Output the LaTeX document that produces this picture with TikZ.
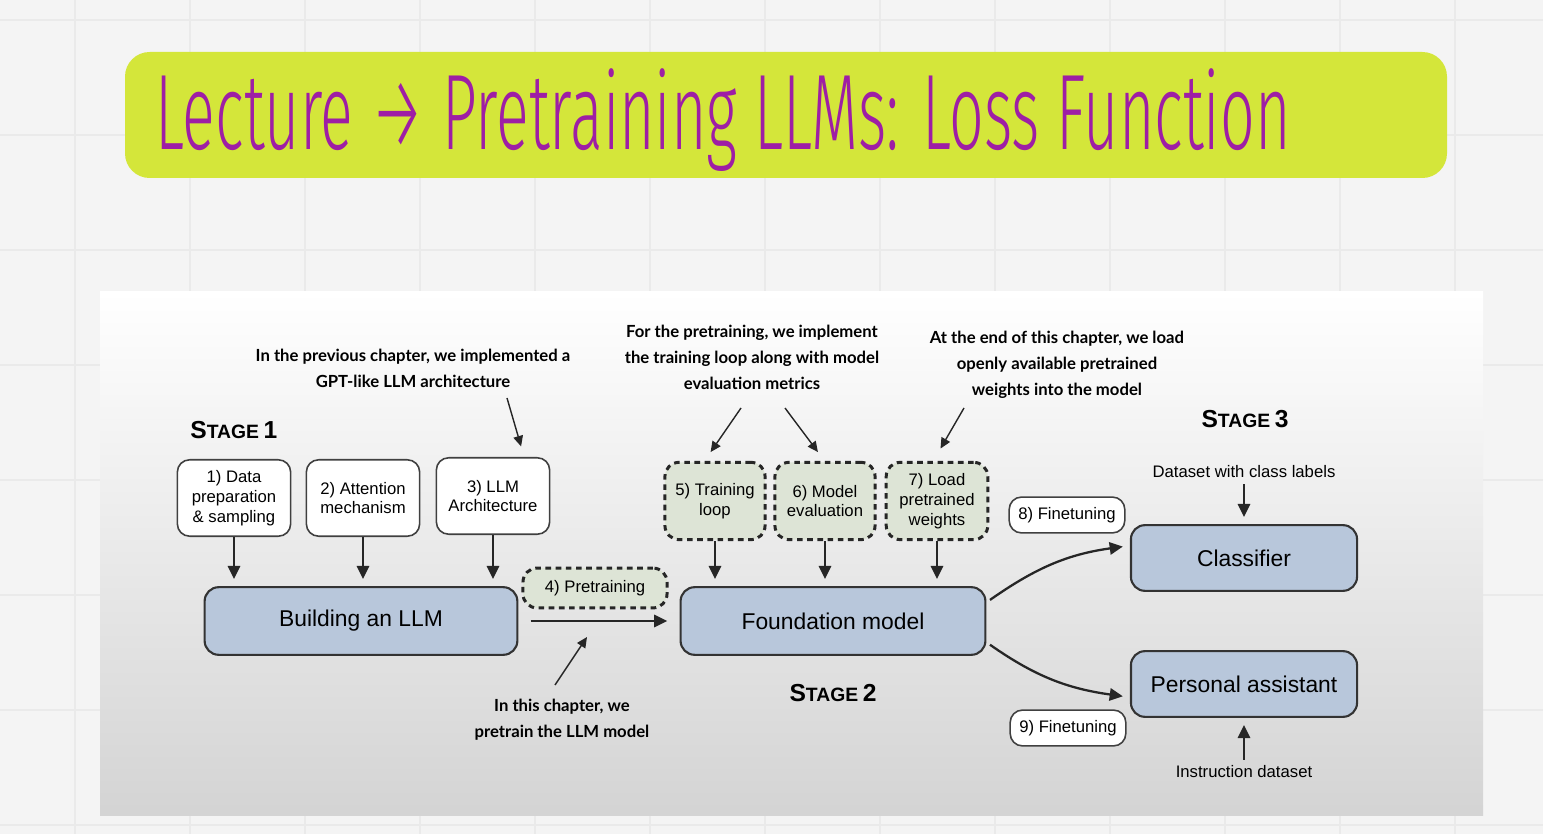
\documentclass[tikz,border=0pt]{standalone}
\usepackage{fontspec}
\setmainfont{Liberation Sans}
\newfontfamily\notefont{Lato}
\newfontfamily\handfont{Fira Sans Light}
\usetikzlibrary{arrows.meta,positioning}

% faux small caps for the stage headings
\newcommand{\stagetext}[1]{\textbf{{\fontsize{14}{14}\selectfont S}{\fontsize{11}{11}\selectfont TAGE} {\fontsize{14}{14}\selectfont #1}}}

\begin{document}
\begin{tikzpicture}[x=0.02cm, y=-0.02cm, >={Stealth[inset=0pt, length=7.5pt, width=7pt]},
	font=\fontsize{9.5}{11.3}\selectfont,
	mainbox/.style={draw=black!80, line width=1.2pt, rounded corners=8pt, fill=boxblue, font=\fontsize{13}{15}\selectfont, minimum height=38.5pt},
	stepbox/.style={draw=black!75, line width=0.9pt, rounded corners=7pt, fill=white, align=center, minimum width=64.5pt, minimum height=43.5pt, inner sep=1pt},
	dashbox/.style={draw=black!85, line width=1.7pt, dash pattern=on 3.2pt off 2.6pt, rounded corners=8pt, fill=dashgreen, align=center, minimum width=57pt, minimum height=44pt, inner sep=1pt},
	tunebox/.style={draw=black!75, line width=0.9pt, rounded corners=7pt, fill=white, minimum width=65.8pt, minimum height=20.4pt},
	note/.style={font=\notefont\bfseries\fontsize{9.5}{14.8}\selectfont, align=center},
	flow/.style={->, line width=1.3pt, black!85},
	pointer/.style={-{Stealth[inset=0pt, length=6pt, width=5.5pt]}, line width=0.8pt, black!85}]
	\definecolor{boardgray}{RGB}{244,244,244}
	\definecolor{gridgray}{RGB}{234,234,234}
	\definecolor{limebar}{RGB}{212,230,58}
	\definecolor{inkpurple}{RGB}{158,30,165}
	\definecolor{boxblue}{RGB}{184,199,219}
	\definecolor{dashgreen}{RGB}{221,228,214}
	
	% board with faint grid
	\useasboundingbox (0,0) rectangle (1543,834);
	\fill[boardgray] (0,0) rectangle (1543,834);
	\foreach \gx in {75,190,...,1530} \draw[gridgray, line width=0.6pt] (\gx,0) -- (\gx,834);
	\foreach \gy in {20,135,...,830} \draw[gridgray, line width=0.6pt] (0,\gy) -- (1543,\gy);
	
	% title bar
	\fill[limebar, rounded corners=14pt] (125,52) rectangle (1447,178);
	\node[anchor=base west, inner sep=0pt, text=inkpurple] (title) at (155,150) {\resizebox{646pt}{46pt}{\handfont Lecture → Pretraining LLMs: Loss Function}};
	
	% slide panel
	\shade[top color=white, middle color=black!3, bottom color=black!17] (100,292) rectangle (1483,815);
	
	% stage 1
	\node[anchor=west, inner sep=0pt] (stage1) at (190,430) {\stagetext{1}};
	\node[stepbox] (data) at (234,498) {1) Data\\preparation\\\& sampling};
	\node[stepbox] (attn) at (363,498) {2) Attention\\mechanism};
	\node[stepbox] (arch) at (493,496) {3) LLM\\Architecture};
	\node[mainbox, minimum width=178pt] (build) at (361,621) {Building an LLM};
	
	% stage 2
	\node[dashbox, minimum width=82pt, minimum height=22.7pt] (pretrain) at (595,588) {4) Pretraining};
	\node[dashbox] (loop) at (715,501) {5) Training\\loop};
	\node[dashbox] (evalm) at (825,501) {6) Model\\evaluation};
	\node[dashbox, minimum width=57.8pt] (load) at (937,501) {7) Load\\pretrained\\weights};
	\node[mainbox, minimum width=173.5pt] (found) at (833,621) {Foundation model};
	\node (stage2) at (833,693) {\stagetext{2}};
	
	% stage 3
	\node (stage3) at (1245,419) {\stagetext{3}};
	\node (dsclass) at (1244,472) {Dataset with class labels};
	\node[mainbox, minimum width=128.7pt, minimum height=37.4pt] (clf) at (1244,558) {Classifier};
	\node[mainbox, minimum width=128.7pt, minimum height=37.4pt] (assist) at (1244,684) {Personal assistant};
	\node (dsinstr) at (1244,772) {Instruction dataset};
	\node[tunebox] (tune8) at (1067,515) {8) Finetuning};
	\node[tunebox] (tune9) at (1068,728) {9) Finetuning};
	
	% notes
	\node[note] (noteprev) at (413,368) {In the previous chapter, we implemented a\\GPT-like LLM architecture};
	\node[note] (notetrain) at (752,357) {For the pretraining, we implement\\the training loop along with model\\evaluation metrics};
	\node[note] (noteload) at (1057,365) {At the end of this chapter, we load\\openly available pretrained\\weights into the model};
	\node[note] (notethis) at (562,720) {In this chapter, we\\pretrain the LLM model};
	
	% flow arrows
	\foreach \s in {data,attn,arch}
		\draw[flow, shorten >=4pt] (\s) -- (\s |- build.north);
	\foreach \s in {loop,evalm,load}
		\draw[flow, shorten >=4pt] (\s) -- (\s |- found.north);
	\draw[flow] ([xshift=7pt]build.east) -- ([xshift=-7pt]found.west);
	\draw[flow] ([xshift=2pt, yshift=12pt]found.east) to[out=35, in=188] ([xshift=-4pt, yshift=6.5pt]clf.west);
	\draw[flow] ([xshift=2pt, yshift=-13.5pt]found.east) to[out=-35, in=172] ([xshift=-4pt, yshift=-7pt]assist.west);
	\draw[flow, shorten >=4pt] (dsclass) -- (clf);
	\draw[flow, shorten >=4pt] (dsinstr) -- (assist);
	
	% note pointers
	\coordinate (tailprev) at (507,398);
	\coordinate (tailloop) at (741,408);
	\coordinate (taileval) at (785,408);
	\coordinate (tailload) at (964,408);
	\coordinate (tailthis) at (555,685);
	\coordinate (headthis) at (587,637);
	\draw[pointer] (tailprev) -- ([xshift=16pt, yshift=6pt]arch.north);
	\draw[pointer] (tailloop) -- ([xshift=-2.5pt, yshift=5pt]loop.north);
	\draw[pointer] (taileval) -- ([xshift=-4pt, yshift=5pt]evalm.north);
	\draw[pointer] (tailload) -- ([xshift=2pt, yshift=7pt]load.north);
	\draw[pointer] (tailthis) -- (headthis);
\end{tikzpicture}
\end{document}
